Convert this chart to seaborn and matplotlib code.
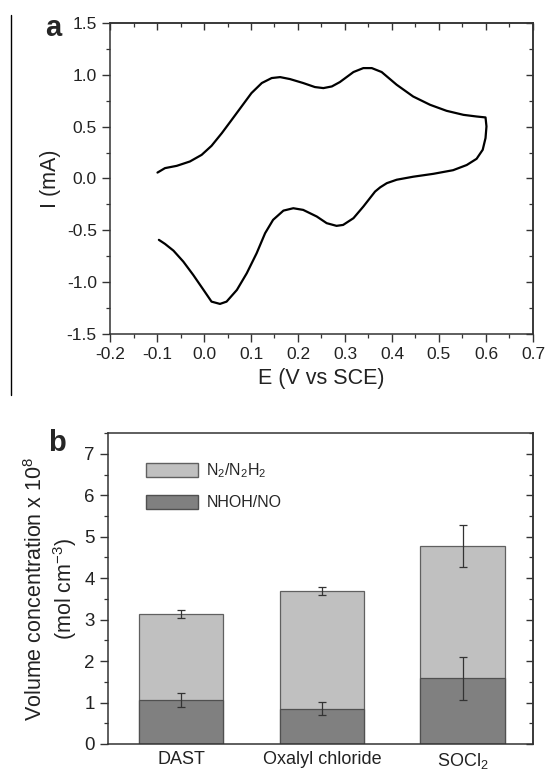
import numpy as np
import pandas as pd
import matplotlib
matplotlib.use("Agg")
import matplotlib.pyplot as plt
from matplotlib.lines import Line2D
from matplotlib.patches import Patch
from matplotlib.ticker import MultipleLocator, NullFormatter
import seaborn as sns

# Panel a : voltammogramme (dans l'ordre du balayage)
cv_E = [-0.099, -0.083, -0.058, -0.030, -0.005, 0.016, 0.038, 0.059, 0.080, 0.101,
        0.123, 0.144, 0.162, 0.183, 0.211, 0.236, 0.254, 0.272, 0.289, 0.318,
        0.339, 0.357, 0.378, 0.410, 0.445, 0.481, 0.516, 0.552, 0.580, 0.599,
        0.601, 0.599, 0.593, 0.580, 0.559, 0.530, 0.488, 0.445, 0.410, 0.389,
        0.375, 0.364, 0.339, 0.318, 0.296, 0.282, 0.261, 0.240, 0.211, 0.190,
        0.169, 0.147, 0.130, 0.112, 0.091, 0.070, 0.048, 0.034, 0.016, -0.001,
        -0.023, -0.044, -0.065, -0.083, -0.096]
cv_I = [0.057, 0.100, 0.122, 0.164, 0.228, 0.315, 0.438, 0.566, 0.695, 0.824,
        0.921, 0.969, 0.978, 0.959, 0.921, 0.882, 0.872, 0.888, 0.930, 1.027,
        1.065, 1.065, 1.027, 0.904, 0.791, 0.711, 0.653, 0.614, 0.598, 0.589,
        0.502, 0.390, 0.277, 0.190, 0.130, 0.080, 0.045, 0.017, -0.012, -0.045,
        -0.085, -0.126, -0.271, -0.383, -0.448, -0.457, -0.431, -0.367, -0.303, -0.287,
        -0.310, -0.399, -0.528, -0.721, -0.914, -1.075, -1.188, -1.210, -1.188, -1.075,
        -0.930, -0.802, -0.696, -0.631, -0.592]

# Panel b : barres empilées
categories = ["DAST", "Oxalyl chloride", "SOCl$_2$"]
nhoh_no = [1.06, 0.85, 1.58]
nhoh_no_err = [0.18, 0.16, 0.53]
total = [3.14, 3.69, 4.77]
total_err = [0.10, 0.09, 0.51]

sns.set_theme(style="ticks")
plt.rcParams["font.family"] = ["Liberation Sans", "DejaVu Sans"]
plt.rcParams["mathtext.fontset"] = "custom"
plt.rcParams["mathtext.rm"] = "Liberation Sans"
plt.rcParams["mathtext.it"] = "Liberation Sans"

fig = plt.figure(figsize=(5.47, 7.72), dpi=100)
ax1 = fig.add_axes([0.2011, 0.5674, 0.7733, 0.4028])
ax2 = fig.add_axes([0.1974, 0.0363, 0.7770, 0.4027])


def inner_ticks(ax, which_side, major, minor):
    # ticks intérieurs sans étiquettes (haut / droite)
    if which_side == "top":
        sec = ax.secondary_xaxis("top")
        axis = sec.xaxis
    else:
        sec = ax.secondary_yaxis("right")
        axis = sec.yaxis
    axis.set_major_locator(MultipleLocator(major))
    axis.set_minor_locator(MultipleLocator(minor))
    axis.set_major_formatter(NullFormatter())
    sec.tick_params(which="both", direction="in", color="#333333")
    sec.tick_params(which="major", length=5, width=1.0)
    sec.tick_params(which="minor", length=3, width=0.9)
    sec.spines[which_side].set_linewidth(1.1)
    sec.spines[which_side].set_color("#333333")


# --- a ---
df_cv = pd.DataFrame({"E": cv_E, "I": cv_I})
sns.lineplot(data=df_cv, x="E", y="I", sort=False, estimator=None,
             color="black", lw=1.6, solid_joinstyle="round", ax=ax1)
ax1.set_xlim(-0.2, 0.7)
ax1.set_ylim(-1.5, 1.5)
ax1.xaxis.set_major_locator(MultipleLocator(0.1))
ax1.xaxis.set_minor_locator(MultipleLocator(0.05))
ax1.yaxis.set_major_locator(MultipleLocator(0.5))
ax1.yaxis.set_minor_locator(MultipleLocator(0.25))
ax1.xaxis.set_major_formatter(lambda v, p: f"{v:.1f}")
ax1.yaxis.set_major_formatter(lambda v, p: f"{v:.1f}")
ax1.set_xlabel("E (V vs SCE)", fontsize=15.5, color="#222222", labelpad=4)
ax1.set_ylabel("I (mA)", fontsize=15.5, color="#222222", labelpad=4)
ax1.tick_params(which="both", direction="out", labelsize=12.5, color="#333333",
                labelcolor="#222222")
ax1.tick_params(which="major", length=6, width=1.0)
ax1.tick_params(which="minor", length=3, width=0.9)
for sp in ax1.spines.values():
    sp.set_linewidth(1.1)
    sp.set_color("#333333")
inner_ticks(ax1, "top", 0.1, 0.05)
inner_ticks(ax1, "right", 0.5, 0.25)
fig.text(0.097, 0.964, "a", fontsize=21, fontweight="bold", ha="center", va="center")

# --- b ---
df_tot = pd.DataFrame({"cat": categories, "val": total})
df_low = pd.DataFrame({"cat": categories, "val": nhoh_no})
sns.barplot(data=df_tot, x="cat", y="val", color="#c0c0c0", saturation=1,
            width=0.6, edgecolor="#606060", linewidth=0.9, ax=ax2)
sns.barplot(data=df_low, x="cat", y="val", color="#808080", saturation=1,
            width=0.6, edgecolor="#505050", linewidth=0.9, ax=ax2)
xs = np.arange(len(categories))
ax2.errorbar(xs, total, yerr=total_err, fmt="none", ecolor="#333333",
             elinewidth=0.9, capsize=3, capthick=0.9)
ax2.errorbar(xs, nhoh_no, yerr=nhoh_no_err, fmt="none", ecolor="#333333",
             elinewidth=0.9, capsize=3, capthick=0.9)
ax2.set_xlim(-0.52, 2.5)
ax2.set_ylim(0, 7.5)
ax2.yaxis.set_major_locator(MultipleLocator(1))
ax2.yaxis.set_minor_locator(MultipleLocator(0.5))
ax2.set_xlabel("")
ax2.set_ylabel("Volume concentration x 10$^8$\n(mol cm$^{-3}$)", fontsize=15.5,
               color="#222222", linespacing=1.2)
ax2.tick_params(axis="x", length=0, labelsize=13, pad=5, labelcolor="#222222")
ax2.tick_params(axis="y", which="both", direction="out", labelsize=13.5,
                color="#333333", labelcolor="#222222")
ax2.tick_params(axis="y", which="major", length=6, width=1.0)
ax2.tick_params(axis="y", which="minor", length=3, width=0.9)
for sp in ax2.spines.values():
    sp.set_linewidth(1.1)
    sp.set_color("#333333")
inner_ticks(ax2, "right", 1, 0.5)

handles = [Patch(facecolor="#c0c0c0", edgecolor="#606060", label="N$_2$/N$_2$H$_2$"),
           Patch(facecolor="#808080", edgecolor="#505050", label="NHOH/NO")]
ax2.legend(handles=handles, loc="upper left", frameon=False, fontsize=11.5,
           handlelength=3.3, handleheight=0.9, handletextpad=0.5,
           labelspacing=0.95, bbox_to_anchor=(0.055, 0.955))
fig.text(0.104, 0.426, "b", fontsize=21, fontweight="bold", ha="center", va="center")

# trait vertical dans la marge gauche
fig.add_artist(Line2D([0.021, 0.021], [0.981, 0.488], color="black", lw=1.0))

plt.savefig("out.png", dpi=100)
plt.close()
